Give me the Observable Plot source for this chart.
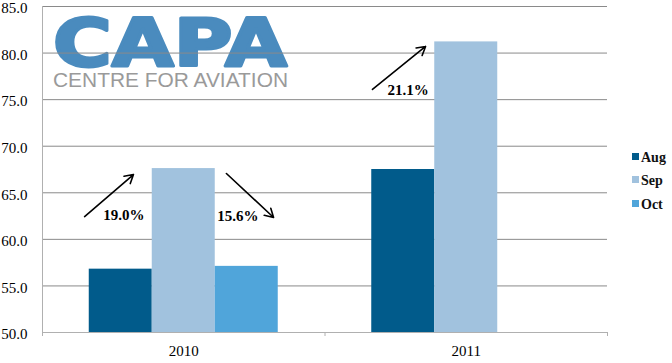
<!DOCTYPE html>
<html>
<head>
<meta charset="utf-8">
<script src="https://cdn.jsdelivr.net/npm/d3@7"></script>
<script src="https://cdn.jsdelivr.net/npm/@observablehq/plot@0.6"></script>
<style>
  html, body { margin: 0; padding: 0; background: #fff; }
  #wrap { position: relative; width: 672px; height: 363px; }
  #wrap svg { overflow: visible; }
  #legend { position: absolute; left: 632px; top: 146px; font-family: "Liberation Serif", serif; font-size: 14px; font-weight: bold; color: #111; }
  #legend div { height: 23.5px; display: flex; align-items: center; }
  #legend span.sw { display: inline-block; width: 7px; height: 7px; margin-right: 2px; margin-top: -3px; }
</style>
</head>
<body>
<div id="wrap"></div>
<script>
// ---- data ----
const years = ["2010", "2011"];
const months = ["Aug", "Sep", "Oct"];
const values2010 = [56.8, 67.6, 57.1];
const values2011 = [67.5, 81.2, null];
const colors = ["#015b8b", "#a1c2de", "#50a5da"];
const yTicks = [50, 55, 60, 65, 70, 75, 80, 85];

// annotations (data coordinates: x in year-group units, y in value units)
const arrowX1 = [0.149, 0.651, 1.168];
const arrowY1 = [62.45, 67.07, 76.09];
const arrowX2 = [0.322, 0.818, 1.356];
const arrowY2 = [66.96, 62.35, 80.71];
const labelText = ["19.0%", "15.6%", "21.1%"];
const labelX = [0.288, 0.692, 1.294];
const labelY = [62.6, 62.5, 76.0];

// ---- build tables ----
const barWidth = 0.223; // fraction of a year group
const rows = [];
[values2010, values2011].forEach((vals, yi) => {
  vals.forEach((v, mi) => {
    if (v == null) return;
    const c = yi + 0.5 + (mi - 1.5) * barWidth;
    rows.push({year: years[yi], month: months[mi], value: v, x1: c, x2: c + barWidth});
  });
});
const arrows = arrowX1.map((x, i) => ({x1: x, y1: arrowY1[i], x2: arrowX2[i], y2: arrowY2[i]}));
const labels = labelText.map((t, i) => ({text: t, x: labelX[i], y: labelY[i]}));

const chart = Plot.plot({
  width: 672,
  height: 363,
  marginLeft: 42,
  marginRight: 65,
  marginTop: 6,
  marginBottom: 31,
  style: {fontFamily: "Liberation Serif, serif", fontSize: "15px", color: "#111", background: "transparent", overflow: "visible"},
  x: {domain: [0, 2], axis: null},
  y: {domain: [50, 85], axis: null},
  color: {domain: months, range: colors},
  marks: [
    Plot.gridY(yTicks, {stroke: "#8a8a8a", strokeOpacity: 1, strokeWidth: 1}),
    Plot.rectY(rows, {x1: "x1", x2: "x2", y1: 50, y2: "value", fill: "month"}),
    Plot.ruleX([0], {stroke: "#b0b0b0"}),
    Plot.ruleY([50], {stroke: "#b0b0b0"}),
    Plot.axisY(yTicks, {tickSize: 0, tickPadding: 15, dy: 2, tickFormat: d => d.toFixed(1), fontSize: 15, fill: "#000"}),
    Plot.axisX([0, 1, 2], {tickSize: 4, stroke: "#b0b0b0", tickFormat: () => ""}),
    Plot.axisX([0.5, 1.5], {tickSize: 0, tickPadding: 13, tickFormat: d => years[Math.floor(d)], fontSize: 15, fill: "#000"}),
    Plot.arrow(arrows, {x1: "x1", y1: "y1", x2: "x2", y2: "y2", stroke: "#000", strokeWidth: 1.6, headLength: 9}),
    Plot.text(labels, {x: "x", y: "y", text: "text", fontSize: 15, fontWeight: "bold", fill: "#000"})
  ]
});

// logo behind the grid
const svg = d3.select(chart);
const logo = svg.insert("g", ":first-child").attr("text-anchor", "start");
logo.append("text")
  .attr("x", 53).attr("y", 66)
  .attr("text-anchor", "start")
  .attr("textLength", 234).attr("lengthAdjust", "spacingAndGlyphs")
  .attr("font-family", "DejaVu Sans, sans-serif").attr("font-weight", "bold")
  .attr("font-size", 66).attr("fill", "#4a8bbe")
  .attr("stroke", "#4a8bbe").attr("stroke-width", 3).attr("stroke-linejoin", "round")
  .text("CAPA");
logo.append("text")
  .attr("x", 53).attr("y", 87)
  .attr("text-anchor", "start")
  .attr("textLength", 235).attr("lengthAdjust", "spacingAndGlyphs")
  .attr("font-family", "Liberation Sans, sans-serif")
  .attr("font-size", 19.5).attr("fill", "#9a9a9a")
  .text("CENTRE FOR AVIATION");

const wrap = document.getElementById("wrap");
wrap.appendChild(chart);

// legend
const legend = document.createElement("div");
legend.id = "legend";
months.forEach((m, i) => {
  const row = document.createElement("div");
  const sw = document.createElement("span");
  sw.className = "sw";
  sw.style.background = colors[i];
  row.appendChild(sw);
  row.appendChild(document.createTextNode(m));
  legend.appendChild(row);
});
wrap.appendChild(legend);
</script>
</body>
</html>
